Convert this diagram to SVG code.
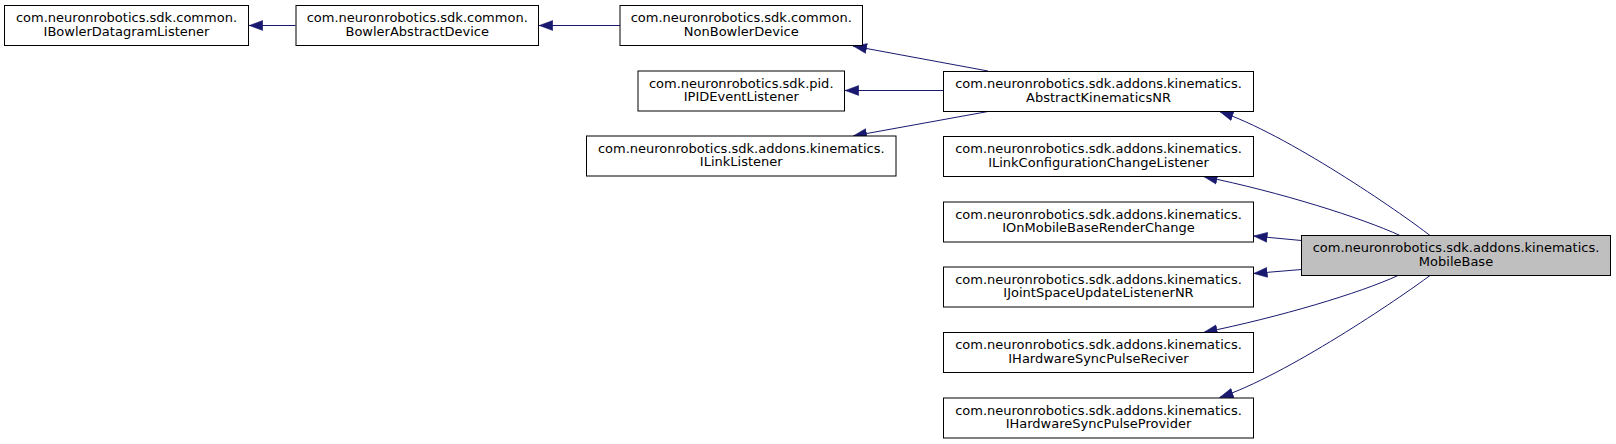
<svg xmlns="http://www.w3.org/2000/svg" width="1616" height="444" viewBox="0 0 1616 444">
<style>
.box{fill:#ffffff;stroke:#000000;stroke-width:1}
.cur{fill:#bfbfbf;stroke:#000000;stroke-width:1}
.t{font-family:"DejaVu Sans","Liberation Sans",sans-serif;font-size:13px;fill:#000000;text-anchor:middle}
.e{fill:none;stroke:#191970;stroke-width:1;marker-end:url(#ah)}
</style>
<defs>
<marker id="ah" viewBox="0 0 14 11" refX="14" refY="5.5" markerWidth="14" markerHeight="11" markerUnits="userSpaceOnUse" orient="auto">
<path d="M0.3,0.6 L13.7,5.5 L0.3,10.4 Z" fill="#191970" stroke="#191970" stroke-width="0.6"/>
</marker>
</defs>
<rect width="1616" height="444" fill="#ffffff"/>
<g id="connectors">
<path class="e" d="M295.5,25.5 L249,25.5"/>
<path class="e" d="M620,25.5 L539,25.5"/>
<path class="e" d="M988,71 L853,46"/>
<path class="e" d="M943.5,90.5 L845,90.5"/>
<path class="e" d="M988,111.5 L853,136"/>
<path class="e" d="M1430,235.5 C1400,212 1285,133 1219.5,111.5"/>
<path class="e" d="M1400,235.5 C1362,218 1280,192 1203.5,176.5"/>
<path class="e" d="M1301.5,240.5 L1253.5,236"/>
<path class="e" d="M1301.5,269.5 L1253.5,273.5"/>
<path class="e" d="M1398,275.5 C1360,293 1280,317 1203.5,332.5"/>
<path class="e" d="M1430,275.5 C1400,298 1285,376 1219.5,397.5"/>
</g>
<g id="IBowlerDatagramListener">
<rect class="box" x="4.5" y="5.5" width="244" height="40"/>
<text class="t" x="126.5" y="22">com.neuronrobotics.sdk.common.</text>
<text class="t" x="126.5" y="35.5">IBowlerDatagramListener</text>
</g>
<g id="BowlerAbstractDevice">
<rect class="box" x="296" y="5.5" width="242.5" height="40"/>
<text class="t" x="417.25" y="22">com.neuronrobotics.sdk.common.</text>
<text class="t" x="417.25" y="35.5">BowlerAbstractDevice</text>
</g>
<g id="NonBowlerDevice">
<rect class="box" x="620" y="5.5" width="242.5" height="40"/>
<text class="t" x="741.25" y="22">com.neuronrobotics.sdk.common.</text>
<text class="t" x="741.25" y="35.5">NonBowlerDevice</text>
</g>
<g id="IPIDEventListener">
<rect class="box" x="638" y="71" width="206.5" height="40"/>
<text class="t" x="741.25" y="87.5">com.neuronrobotics.sdk.pid.</text>
<text class="t" x="741.25" y="101">IPIDEventListener</text>
</g>
<g id="ILinkListener">
<rect class="box" x="586.5" y="136" width="309.5" height="40"/>
<text class="t" x="741.25" y="152.5">com.neuronrobotics.sdk.addons.kinematics.</text>
<text class="t" x="741.25" y="166">ILinkListener</text>
</g>
<g id="AbstractKinematicsNR">
<rect class="box" x="943.5" y="71.5" width="310" height="40"/>
<text class="t" x="1098.5" y="88">com.neuronrobotics.sdk.addons.kinematics.</text>
<text class="t" x="1098.5" y="101.5">AbstractKinematicsNR</text>
</g>
<g id="ILinkConfigurationChangeListener">
<rect class="box" x="943.5" y="136.5" width="310" height="40"/>
<text class="t" x="1098.5" y="153">com.neuronrobotics.sdk.addons.kinematics.</text>
<text class="t" x="1098.5" y="166.5">ILinkConfigurationChangeListener</text>
</g>
<g id="IOnMobileBaseRenderChange">
<rect class="box" x="943.5" y="202" width="310" height="40"/>
<text class="t" x="1098.5" y="218.5">com.neuronrobotics.sdk.addons.kinematics.</text>
<text class="t" x="1098.5" y="232">IOnMobileBaseRenderChange</text>
</g>
<g id="IJointSpaceUpdateListenerNR">
<rect class="box" x="943.5" y="267" width="310" height="40"/>
<text class="t" x="1098.5" y="283.5">com.neuronrobotics.sdk.addons.kinematics.</text>
<text class="t" x="1098.5" y="297">IJointSpaceUpdateListenerNR</text>
</g>
<g id="IHardwareSyncPulseReciver">
<rect class="box" x="943.5" y="332.5" width="310" height="40"/>
<text class="t" x="1098.5" y="349">com.neuronrobotics.sdk.addons.kinematics.</text>
<text class="t" x="1098.5" y="362.5">IHardwareSyncPulseReciver</text>
</g>
<g id="IHardwareSyncPulseProvider">
<rect class="box" x="943.5" y="398" width="310" height="40"/>
<text class="t" x="1098.5" y="414.5">com.neuronrobotics.sdk.addons.kinematics.</text>
<text class="t" x="1098.5" y="428">IHardwareSyncPulseProvider</text>
</g>
<g id="MobileBase">
<rect class="cur" x="1301.5" y="235.5" width="309" height="40"/>
<text class="t" x="1456" y="252">com.neuronrobotics.sdk.addons.kinematics.</text>
<text class="t" x="1456" y="265.5">MobileBase</text>
</g>
</svg>
